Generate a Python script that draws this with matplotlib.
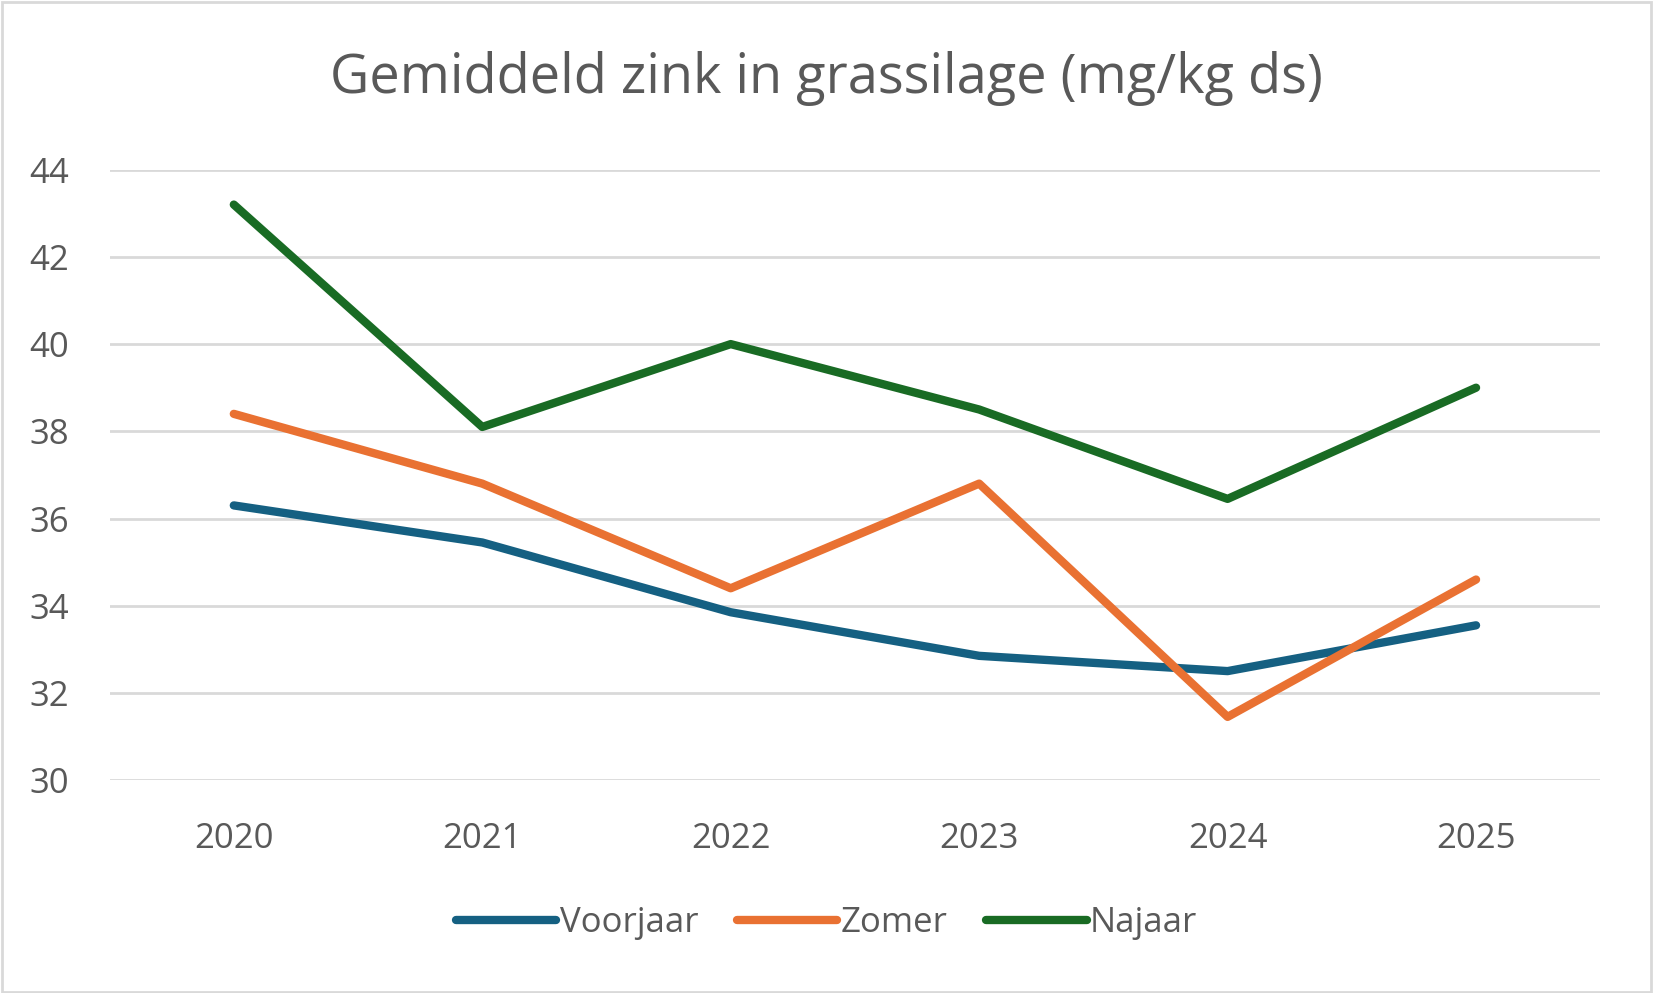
import matplotlib.pyplot as plt
from matplotlib.patches import Rectangle

years = ["2020", "2021", "2022", "2023", "2024", "2025"]
voorjaar = [36.3, 35.45, 33.85, 32.85, 32.5, 33.55]
zomer = [38.4, 36.8, 34.4, 36.8, 31.45, 34.6]
najaar = [43.2, 38.1, 40.0, 38.5, 36.45, 39.0]
yticks = [30, 32, 34, 36, 38, 40, 42, 44]

grey = "#595959"
plt.rcParams["font.family"] = ["Open Sans", "DejaVu Sans"]

fig = plt.figure(figsize=(16.53, 9.93), dpi=100)
ax = fig.add_axes([0.0663, 0.2144, 0.9018, 0.6147])

x = list(range(len(years)))
series = [("Voorjaar", voorjaar, "#156082"),
          ("Zomer", zomer, "#E97132"),
          ("Najaar", najaar, "#196B24")]
for name, vals, col in series:
    ax.plot(x, vals, color=col, lw=6, solid_capstyle="round",
            solid_joinstyle="round", label=name, zorder=3)

ax.set_xlim(-0.5, len(years) - 0.5)
ax.set_ylim(30, 44)
ax.set_yticks(yticks)
ax.set_xticks(x)
ax.set_xticklabels(years)
ax.grid(axis="y", color="#D9D9D9", lw=2)
ax.set_axisbelow(True)
for s in ax.spines.values():
    s.set_visible(False)
ax.tick_params(length=0, labelsize=25, colors=grey)
ax.tick_params(axis="x", pad=30)
for lbl in ax.get_yticklabels():
    lbl.set_horizontalalignment("left")
    lbl.set_x(-0.054)
ax.tick_params(axis="y", pad=0)

fig.text(0.5, 0.921, "Gemiddeld zink in grassilage (mg/kg ds)", ha="center",
         va="center", fontsize=39, color=grey)

leg = fig.legend(loc="center", bbox_to_anchor=(0.5, 0.07), ncol=3, frameon=False,
                 fontsize=25, labelcolor=grey, handlelength=2.9, handletextpad=0.1,
                 columnspacing=1.1)

fig.add_artist(Rectangle((0.001, 0.001), 0.998, 0.997, transform=fig.transFigure,
                         fill=False, edgecolor="#D9D9D9", lw=2))

fig.savefig("out.png", dpi=100)
